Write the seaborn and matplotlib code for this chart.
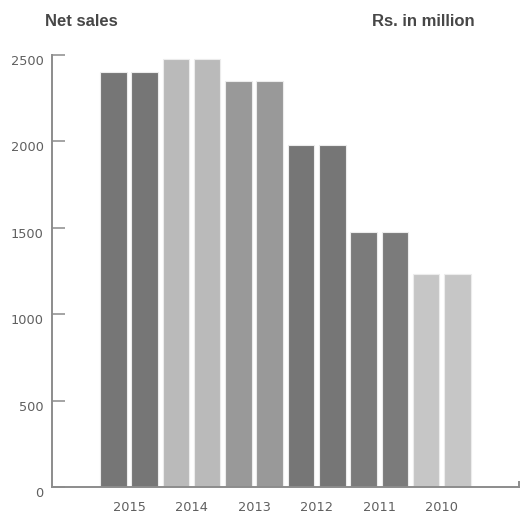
import matplotlib
matplotlib.use("Agg")
import matplotlib.pyplot as plt
import matplotlib.transforms as mtransforms
import numpy as np
import pandas as pd
import seaborn as sns

# Net sales by year (Rs. in million); each year is shown as a pair of bars
years = ["2015", "2014", "2013", "2012", "2011", "2010"]
net_sales = [2400, 2475, 2350, 1980, 1475, 1230]
year_colors = ["#767676", "#bababa", "#999999", "#767676", "#7b7b7b", "#c6c6c6"]
y_ticks = [0, 500, 1000, 1500, 2000, 2500]

sns.set_theme(style="white")
plt.rcParams["font.family"] = ["Liberation Sans", "DejaVu Sans"]

rows = []
for yr, val in zip(years, net_sales):
    for k in range(2):
        rows.append({"slot": f"{yr}-{k}", "year": yr, "value": val})
df = pd.DataFrame(rows)
slot_colors = [c for c in year_colors for _ in range(2)]

fig = plt.figure(figsize=(5.20, 5.14), dpi=100)
ax = fig.add_axes([52 / 520, 27 / 514, 467 / 520, 432 / 514])

sns.barplot(data=df, x="slot", y="value", hue="slot", palette=slot_colors,
            legend=False, width=0.85, edgecolor="#ececec", linewidth=0.8,
            saturation=1, ax=ax)

ax.set_xlim(-1.963, 12.97)
ax.set_ylim(0, 2500)
ax.set_xlabel("")
ax.set_ylabel("")

axis_grey = "#8c8c8c"
ax.spines["top"].set_visible(False)
for side in ["left", "bottom", "right"]:
    ax.spines[side].set_color(axis_grey)
    ax.spines[side].set_linewidth(1.4)
ax.spines["right"].set_bounds(0, 30)

tick_font = {"family": "DejaVu Sans", "size": 9.3}

ax.set_yticks(y_ticks)
ax.set_yticklabels([str(t) for t in y_ticks], fontdict=tick_font)
ax.tick_params(axis="y", direction="in", length=9.5, width=1.1, color=axis_grey,
               labelcolor="#5f5f5f", pad=6, left=True)
offset = mtransforms.ScaledTranslation(0, -3.6 / 72, fig.dpi_scale_trans)
for lab in ax.get_yticklabels():
    lab.set_transform(lab.get_transform() + offset)

ax.set_xticks(np.arange(0.5, 2 * len(years), 2))
ax.set_xticklabels(years, fontdict=tick_font)
ax.tick_params(axis="x", length=0, labelcolor="#5f5f5f", pad=10)

fig.text(45 / 520, 1 - 22 / 514, "Net sales", fontsize=12, fontweight="bold",
         color="#474747", ha="left", va="center")
fig.text(372 / 520, 1 - 22 / 514, "Rs. in million", fontsize=12, fontweight="bold",
         color="#474747", ha="left", va="center")

fig.savefig("out.png", dpi=100, facecolor="white")
